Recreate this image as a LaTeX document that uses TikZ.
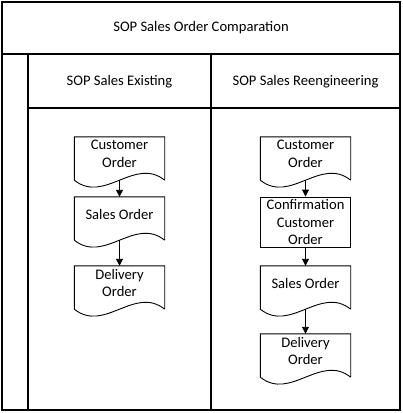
\documentclass[tikz,border=0pt]{standalone}
\usepackage{fontspec}
\setmainfont{Carlito}
\usetikzlibrary{arrows.meta}
\tikzset{
  frame/.style={draw=black, line width=1.1pt},
  outline/.style={draw=black, line width=0.9pt},
  label/.style={font=\fontsize{14.6}{17.6}\selectfont, align=center, inner sep=0pt},
  doctext/.style={label, minimum width=90pt, minimum height=34pt},
  procbox/.style={label, draw=black, line width=0.9pt, minimum width=90pt, minimum height=50pt},
  flow/.style={draw=black, line width=0.9pt, -{Triangle[width=7pt,length=7pt]}}
}
% document outline below a text node: sides of 43pt, sine-like bottom
\newcommand\docoutline[1]{%
  \draw[outline] ([yshift=-9pt]#1.south east) -- (#1.north east) -- (#1.north west)
    -- ([yshift=-9pt]#1.south west)
    .. controls ([xshift=30pt,yshift=-33pt]#1.south west) and ([xshift=-30pt,yshift=15pt]#1.south east)
    .. ([yshift=-9pt]#1.south east);%
}
\begin{document}
\begin{tikzpicture}[x=1pt,y=-1pt]
\useasboundingbox (0,0) rectangle (403,413);
% table
\draw[frame] (2,2) rectangle (400,410);
\draw[frame] (2,54) -- (400,54);
\draw[frame] (28,54) -- (28,410);
\draw[frame] (211,54) -- (211,410);
\draw[frame] (28,108) -- (400,108);
\node[label] (title) at (201,28) {SOP Sales Order Comparation};
\node[label] (hexist) at (119.5,82) {SOP Sales Existing};
\node[label] (hreeng) at (305.5,82) {SOP Sales Reengineering};
% existing
\node[doctext] (eco) at (119.5,154) {Customer\\Order};
\node[doctext] (eso) at (119.5,214) {Sales Order};
\node[doctext] (edo) at (119.5,283) {Delivery\\Order};
\docoutline{eco}
\docoutline{eso}
\docoutline{edo}
\draw[flow] ([yshift=-9pt]eco.south) -- (eso.north);
\draw[flow] ([yshift=-9pt]eso.south) -- (edo.north);
% reengineering
\node[doctext] (rco) at (305.5,154) {Customer\\Order};
\node[procbox] (rcc) at (305.5,222) {Confirmation\\Customer\\Order};
\node[doctext] (rso) at (305.5,283) {Sales Order};
\node[doctext] (rdo) at (305.5,351) {Delivery\\Order};
\docoutline{rco}
\docoutline{rso}
\docoutline{rdo}
\draw[flow] ([yshift=-9pt]rco.south) -- (rcc.north);
\draw[flow] (rcc.south) -- (rso.north);
\draw[flow] ([yshift=-9pt]rso.south) -- (rdo.north);
\end{tikzpicture}
\end{document}
